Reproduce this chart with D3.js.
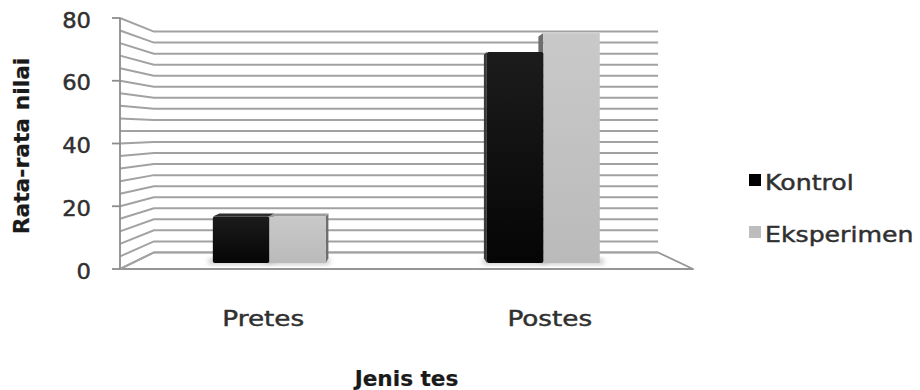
<!DOCTYPE html>
<html>
<head>
<meta charset="utf-8">
<script src="https://cdn.jsdelivr.net/npm/d3@7"></script>
<style>
  html, body { margin: 0; background: #fff; }
  text { font-family: "DejaVu Sans", sans-serif; }
</style>
</head>
<body>
<svg id="chart" width="920" height="390"></svg>
<script>
// ---- data ----
const categories = ["Pretes", "Postes"];
const seriesNames = ["Kontrol", "Eksperimen"];
const kontrolValues = [15.5, 70.3];
const eksperimenValues = [15.5, 76.6];
const yTicks = [0, 20, 40, 60, 80];
const gridValues = d3.range(0, 81, 4);
const xAxisTitle = "Jenis tes";
const yAxisTitle = "Rata-rata nilai";

const seriesValues = { Kontrol: kontrolValues, Eksperimen: eksperimenValues };
const seriesColors = {
  Kontrol:    { front: ["#1c1c1c", "#050505"], side: "#3a3a3a", top: "#2e2e2e", legend: "#000000" },
  Eksperimen: { front: ["#c9c9c9", "#bababa"], side: "#6e6e6e", top: "#9c9c9c", legend: "#bdbdbd" }
};

const svg = d3.select("#chart");

// ---- scales on the front plane of the 3D box ----
const x0 = d3.scaleBand().domain(categories).range([120, 693])
  .paddingInner(0.588).paddingOuter(0.294);
const x1 = d3.scaleBand().domain(seriesNames).range([0, x0.bandwidth()]);
const y = d3.scaleLinear().domain([0, 80]).range([269, 18]);
const [plotLeft, plotRight] = x0.range();

// ---- perspective: vanishing point and relative depth scale factors ----
const vp = [402, 131];
const depth = { front: 1, barFront: 0.9565, barBack: 0.923, back: 0.88 };
const proj = (X, Y, s) => [vp[0] + s * (X - vp[0]), vp[1] + s * (Y - vp[1])];
const poly = pts => pts.map(p => p.join(",")).join(" ");

const defs = svg.append("defs");
defs.append("filter").attr("id", "soft").attr("x", "-50%").attr("y", "-50%")
  .attr("width", "200%").attr("height", "200%")
  .append("feGaussianBlur").attr("stdDeviation", 2.5);
seriesNames.forEach(name => {
  const lg = defs.append("linearGradient").attr("id", "grad-" + name)
    .attr("x1", 0).attr("y1", 0).attr("x2", 0).attr("y2", 1);
  lg.append("stop").attr("offset", "0%").attr("stop-color", seriesColors[name].front[0]);
  lg.append("stop").attr("offset", "100%").attr("stop-color", seriesColors[name].front[1]);
});

// ---- floor ----
const Yb = y(0);
svg.append("polygon")
  .attr("points", poly([
    proj(plotLeft, Yb, depth.front), proj(plotLeft, Yb, depth.back),
    proj(plotRight, Yb, depth.back), proj(plotRight, Yb, depth.front)
  ]))
  .attr("fill", "#fff").attr("stroke", "#959595").attr("stroke-width", 1.8)
  .attr("stroke-linejoin", "round");

// ---- side wall and back wall gridlines ----
const grid = svg.append("g").attr("stroke", "#a2a2a2").attr("stroke-width", 2).attr("fill", "none");
grid.selectAll("polyline").data(gridValues).join("polyline")
  .attr("points", v => poly([
    proj(plotLeft, y(v), depth.front),
    proj(plotLeft, y(v), depth.back),
    proj(plotRight, y(v), depth.back)
  ]));

// ---- value axis on the front-left edge ----
const axis = svg.append("g").attr("stroke", "#8c8c8c").attr("stroke-width", 1.8);
axis.append("line").attr("x1", plotLeft).attr("x2", plotLeft).attr("y1", y(80)).attr("y2", y(0));
axis.selectAll("line.tick").data(yTicks).join("line").attr("class", "tick")
  .attr("x1", plotLeft - 8).attr("x2", plotLeft).attr("y1", d => y(d)).attr("y2", d => y(d));

// ---- text helper: wide letterforms via a horizontal stretch ----
function label(parent, str, x, yPos, o) {
  const fill = o.fill || "#303030";
  return parent.append("text")
    .attr("transform", `translate(${x},${yPos})${o.rotate ? " rotate(-90)" : ""} scale(${o.k},1)`)
    .attr("text-anchor", o.anchor || "middle")
    .attr("font-size", o.size)
    .attr("font-weight", o.bold ? 700 : 400)
    .attr("fill", fill)
    .attr("stroke", fill).attr("stroke-width", o.bold ? 0.2 : 0.45)
    .attr("dy", o.dy || 0)
    .text(str);
}

const txt = svg.append("g");
yTicks.forEach(v => label(txt, d3.format("d")(v), 91, y(v) + 2, { anchor: "end", size: 21, k: 1.08, dy: "0.36em" }));
categories.forEach(c => label(txt, c, x0(c) + x0.bandwidth() / 2, 326, { size: 21, k: 1.25 }));
label(txt, xAxisTitle, (plotLeft + plotRight) / 2, 386, { size: 21, k: 1.03, bold: true, fill: "#1a1a1a" });
label(txt, yAxisTitle, 29, 146, { size: 21, k: 1.04, bold: true, rotate: true, fill: "#1a1a1a" });

// ---- bars ----
const bars = [];
categories.forEach((c, i) => seriesNames.forEach(s => {
  const X0 = x0(c) + x1(s), X1 = X0 + x1.bandwidth();
  bars.push({ cat: c, series: s, value: seriesValues[s][i], X0, X1 });
}));
// paint farther-from-centre bars first so nearer ones overlap their side faces
bars.sort((a, b) => Math.abs((b.X0 + b.X1) / 2 - vp[0]) - Math.abs((a.X0 + a.X1) / 2 - vp[0]));

const shadowLayer = svg.append("g").attr("filter", "url(#soft)");
const barLayer = svg.append("g");

bars.forEach(b => {
  const Yt = y(b.value);
  const s1 = depth.barFront, s2 = depth.barBack;
  const col = seriesColors[b.series];
  const cx = (b.X0 + b.X1) / 2;
  const fTL = proj(b.X0, Yt, s1), fBR = proj(b.X1, Yb, s1);

  // soft contact shadow on the floor
  shadowLayer.append("rect")
    .attr("x", fTL[0] - 4).attr("y", fBR[1] - 4)
    .attr("width", fBR[0] - fTL[0] + 8).attr("height", 5)
    .attr("fill", "#8a8a8a").attr("opacity", 0.55);

  // visible side face
  const Xs = cx < vp[0] ? b.X1 : b.X0;
  barLayer.append("polygon")
    .attr("points", poly([proj(Xs, Yt, s1), proj(Xs, Yt, s2), proj(Xs, Yb, s2), proj(Xs, Yb, s1)]))
    .attr("fill", col.side);

  // top face when it sits below eye level
  if (Yt > vp[1]) {
    barLayer.append("polygon")
      .attr("points", poly([proj(b.X0, Yt, s1), proj(b.X1, Yt, s1), proj(b.X1, Yt, s2), proj(b.X0, Yt, s2)]))
      .attr("fill", col.top);
  }

  // front face
  barLayer.append("rect")
    .attr("x", fTL[0]).attr("y", fTL[1])
    .attr("width", fBR[0] - fTL[0]).attr("height", fBR[1] - fTL[1])
    .attr("rx", b.series === "Kontrol" ? 2 : 0)
    .attr("fill", `url(#grad-${b.series})`);
});

// ---- legend ----
const legend = svg.append("g");
seriesNames.forEach((s, i) => {
  const ly = 174 + i * 52;
  legend.append("rect").attr("x", 749).attr("y", ly).attr("width", 12).attr("height", 12)
    .attr("fill", seriesColors[s].legend);
  label(legend, s, 765, ly + 16, { anchor: "start", size: 21, k: 1.2 });
});
</script>
</body>
</html>
